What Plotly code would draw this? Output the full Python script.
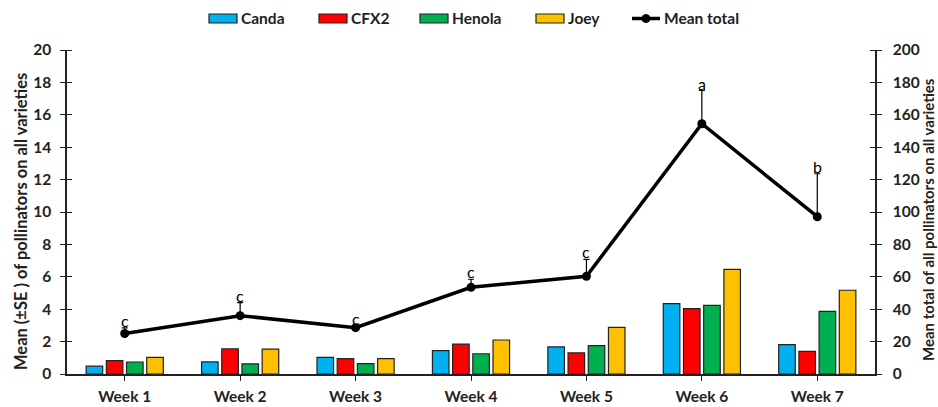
import plotly.graph_objects as go

weeks = ["Week 1", "Week 2", "Week 3", "Week 4", "Week 5", "Week 6", "Week 7"]
canda = [0.48, 0.75, 1.03, 1.44, 1.67, 4.34, 1.81]
cfx2 = [0.83, 1.56, 0.95, 1.85, 1.30, 4.03, 1.40]
henola = [0.74, 0.62, 0.64, 1.25, 1.75, 4.24, 3.87]
joey = [1.03, 1.54, 0.95, 2.10, 2.88, 6.46, 5.17]
mean_total = [25.0, 36.0, 28.6, 53.5, 60.3, 154.5, 97.1]
mean_se = [3.5, 8.0, 1.0, 5.0, 10.5, 20.5, 26.5]
letters = ["c", "c", "c", "c", "c", "a", "b"]

FONT = "Lato"
W, H = 938, 407
ML, MR, MT, MB = 67, 63, 50, 33
PW, PH = W - ML - MR, H - MT - MB


def px(x):
    return (x - ML) / PW


def py(y):
    return (H - MB - y) / PH


fig = go.Figure()
series = [("Canda", canda, "#00B0F0"), ("CFX2", cfx2, "#FF0000"),
          ("Henola", henola, "#00B050"), ("Joey", joey, "#FFC000")]
for name, vals, col in series:
    fig.add_trace(go.Bar(x=weeks, y=vals, name=name, showlegend=False,
                         marker=dict(color=col, line=dict(color="#222", width=1.2))))

fig.add_trace(go.Scatter(
    x=weeks, y=mean_total, name="Mean total", yaxis="y2", mode="lines+markers", showlegend=False,
    line=dict(color="black", width=3.5), marker=dict(color="black", size=9),
    error_y=dict(type="data", array=mean_se, arrayminus=[0]*7, symmetric=False,
                 color="black", thickness=1.2, width=3)))

for w, m, s, l in zip(weeks, mean_total, mean_se, letters):
    fig.add_annotation(x=w, y=m + s, yref="y2", text=l, showarrow=False,
                       yanchor="bottom", yshift=-4,
                       font=dict(family=FONT, size=16, color="black"))

# manual legend (wide rectangular swatches like the original)
legfont = dict(family=FONT, size=15.5, color="#222", weight="bold")
leg_x = [209, 319, 420, 536]
for (name, _, col), x0 in zip(series, leg_x):
    fig.add_shape(type="rect", xref="paper", yref="paper", x0=px(x0), x1=px(x0 + 28),
                  y0=py(23), y1=py(14), fillcolor=col, line=dict(color="#222", width=1.2))
    fig.add_annotation(xref="paper", yref="paper", x=px(x0 + 30), y=py(18.5), text=name,
                       showarrow=False, xanchor="left", yanchor="middle", font=legfont)
fig.add_shape(type="line", xref="paper", yref="paper", x0=px(632), x1=px(660),
              y0=py(18.5), y1=py(18.5), line=dict(color="black", width=3.5))
fig.add_shape(type="circle", xref="paper", yref="paper", x0=px(642), x1=px(650),
              y0=py(22.5), y1=py(14.5), fillcolor="black", line=dict(color="black", width=1))
fig.add_annotation(xref="paper", yref="paper", x=px(662), y=py(18.5), text="Mean total",
                   showarrow=False, xanchor="left", yanchor="middle", font=legfont)

# axis titles
fig.add_annotation(xref="paper", yref="paper", x=px(21), y=py(222), textangle=-90,
                   text="Mean (±SE ) of pollinators on all varieties", showarrow=False,
                   xanchor="center", yanchor="middle",
                   font=dict(family=FONT, size=16.5, color="#222", weight="bold"))
fig.add_annotation(xref="paper", yref="paper", x=px(928), y=py(220), textangle=-90,
                   text="Mean total of all pollinators on all varieties", showarrow=False,
                   xanchor="center", yanchor="middle",
                   font=dict(family=FONT, size=15, color="#222", weight="bold"))

tickfont = dict(family=FONT, size=15.5, color="#222", weight="bold")
fig.update_layout(
    width=W, height=H,
    margin=dict(l=ML, r=MR, t=MT, b=MB, autoexpand=False),
    plot_bgcolor="white", paper_bgcolor="white",
    barmode="group", bargap=0.3, bargroupgap=0.18,
    showlegend=False,
    xaxis=dict(range=[-0.5, 6.5], showline=True, linecolor="#222", linewidth=1.5,
               ticks="outside", ticklen=5, tickcolor="#222", tickfont=tickfont,
               showgrid=False, zeroline=False, ticklabelstandoff=3, automargin=False),
    yaxis=dict(range=[0, 20], dtick=2, showline=True, linecolor="#222", linewidth=1.5,
               ticks="outside", ticklen=5, tickcolor="#222", tickfont=tickfont, automargin=False,
               minor=dict(ticks="inside", ticklen=5, dtick=2, tickcolor="#222", showgrid=False),
               showgrid=False, zeroline=False, ticklabelstandoff=6),
    yaxis2=dict(range=[0, 200], dtick=20, overlaying="y", side="right", showline=True,
                linecolor="#222", linewidth=1.5, ticks="outside", ticklen=5, tickcolor="#222",
                minor=dict(ticks="inside", ticklen=5, dtick=20, tickcolor="#222", showgrid=False),
                tickfont=tickfont, showgrid=False, zeroline=False, ticklabelstandoff=8, automargin=False),
)
fig.write_html("out.html", config={"displayModeBar": False},
               post_script="document.body.style.margin='0';document.body.style.overflow='hidden';")
